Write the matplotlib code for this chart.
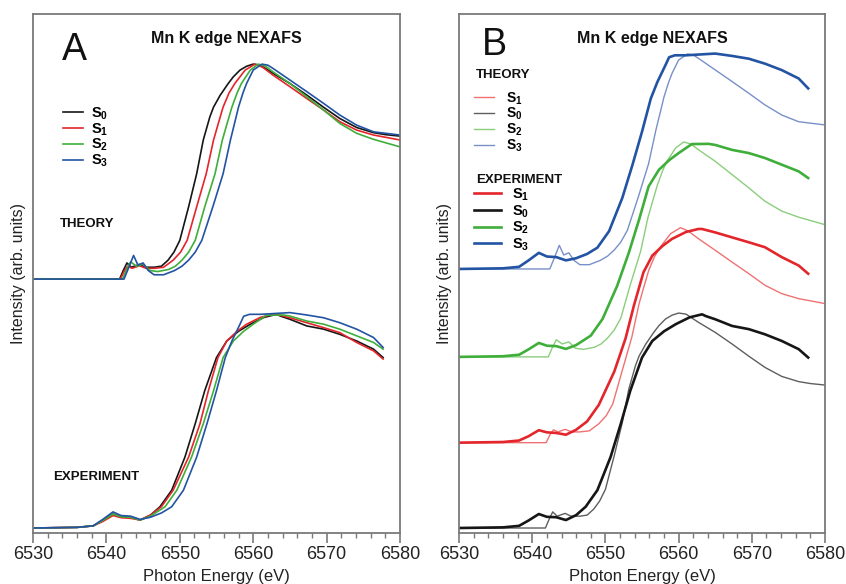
import matplotlib
matplotlib.use("Agg")
import matplotlib.pyplot as plt
from matplotlib.lines import Line2D

plt.rcParams['font.family'] = ['Liberation Sans', 'DejaVu Sans']
plt.rcParams['mathtext.fontset'] = 'custom'
plt.rcParams['mathtext.rm'] = 'Liberation Sans'
plt.rcParams['mathtext.bf'] = 'Liberation Sans:bold'

# ---------------- data (normalized intensity vs photon energy, eV) ----------------
th_s0_e = [6530, 6541.8, 6542.3, 6542.8, 6543.4, 6544.5, 6545.3, 6546.5, 6547.5, 6548.4, 6549.2, 6550.0,
           6551.2, 6552.3, 6553.2, 6554.1, 6554.6, 6555.5, 6556.6, 6557.3, 6558.2, 6559.1, 6560.0,
           6561.0, 6562.7, 6565.0, 6567.3, 6569.6, 6571.8, 6574.1, 6576.4, 6578.0, 6580.0]
th_s0_y = [0, 0, 0.04, 0.075, 0.055, 0.068, 0.055, 0.055, 0.06, 0.088, 0.125, 0.18,
           0.336, 0.49, 0.647, 0.755, 0.80, 0.855, 0.91, 0.941, 0.972, 0.99, 1.0,
           0.995, 0.957, 0.91, 0.856, 0.799, 0.747, 0.705, 0.681, 0.672, 0.665]

th_s1_e = [6530, 6541.9, 6542.4, 6542.9, 6543.5, 6544.5, 6545.4, 6546.5, 6547.8, 6549.1, 6550.1, 6551.0,
           6552.3, 6553.6, 6554.6, 6555.3, 6555.9, 6556.7, 6557.5, 6558.9, 6560.25, 6561.3, 6562.7,
           6565.0, 6567.3, 6569.6, 6571.8, 6574.1, 6576.4, 6580.0]
th_s1_y = [0, 0, 0.035, 0.06, 0.05, 0.062, 0.05, 0.05, 0.055, 0.088, 0.125, 0.18,
           0.336, 0.49, 0.647, 0.73, 0.80, 0.865, 0.91, 0.972, 1.0, 0.985, 0.949,
           0.895, 0.840, 0.786, 0.732, 0.693, 0.670, 0.647]

th_s2_e = [6530, 6542.2, 6542.7, 6543.3, 6544.1, 6545.0, 6545.9, 6547.0, 6548.5, 6549.4, 6550.3, 6551.2,
           6552.1, 6553.4, 6554.8, 6555.8, 6556.5, 6557.1, 6557.8, 6558.4, 6559.6, 6560.7, 6561.7,
           6562.7, 6565.0, 6567.3, 6569.6, 6571.8, 6574.1, 6576.4, 6580.0]
th_s2_y = [0, 0, 0.04, 0.08, 0.06, 0.07, 0.04, 0.035, 0.045, 0.06, 0.088, 0.125,
           0.18, 0.336, 0.49, 0.647, 0.73, 0.80, 0.865, 0.91, 0.972, 1.0, 0.99,
           0.964, 0.91, 0.848, 0.786, 0.724, 0.678, 0.650, 0.615]

th_s3_e = [6530, 6542.4, 6543.0, 6543.7, 6544.3, 6545.0, 6545.7, 6546.5, 6547.8, 6549.3, 6550.3, 6551.2,
           6552.1, 6553.0, 6554.5, 6555.9, 6556.9, 6557.5, 6558.0, 6558.6, 6559.1, 6560.0, 6561.2,
           6562.0, 6562.7, 6565.0, 6567.3, 6569.6, 6571.8, 6574.1, 6576.4, 6580.0]
th_s3_y = [0, 0, 0.05, 0.11, 0.065, 0.075, 0.04, 0.02, 0.02, 0.04, 0.06, 0.088,
           0.125, 0.18, 0.336, 0.49, 0.647, 0.73, 0.80, 0.865, 0.91, 0.972, 1.0,
           0.995, 0.98, 0.926, 0.872, 0.817, 0.763, 0.716, 0.685, 0.670]

ex_s0_e = [6530, 6536, 6538.2, 6539.5, 6540.9, 6542.0, 6543.3, 6544.6, 6546.0, 6547.3, 6548.9, 6550.7,
           6552.1, 6553.4, 6555.0, 6556.4, 6558.0, 6559.6, 6561.5, 6563.2, 6563.7, 6565.0, 6567.3,
           6569.6, 6571.8, 6574.1, 6576.4, 6577.7]
ex_s0_y = [0, 0.003, 0.01, 0.035, 0.065, 0.052, 0.05, 0.037, 0.06, 0.099, 0.176, 0.33,
           0.485, 0.639, 0.793, 0.87, 0.915, 0.948, 0.98, 0.994, 0.986, 0.971, 0.94,
           0.925, 0.901, 0.87, 0.832, 0.793]

ex_s1_e = [6530, 6536, 6538.2, 6539.5, 6540.9, 6542.0, 6543.3, 6544.6, 6546.0, 6547.5, 6549.1, 6551.2,
           6552.75, 6553.9, 6555.2, 6556.4, 6557.8, 6559.1, 6561.0, 6562.7, 6563.2, 6565.0, 6567.3,
           6569.6, 6571.8, 6574.1, 6576.4, 6577.7]
ex_s1_y = [0, 0.003, 0.01, 0.03, 0.058, 0.048, 0.045, 0.037, 0.06, 0.099, 0.176, 0.33,
           0.485, 0.639, 0.793, 0.87, 0.915, 0.948, 0.98, 0.994, 0.994, 0.978, 0.955,
           0.932, 0.909, 0.863, 0.824, 0.786]

ex_s2_e = [6530, 6536, 6538.2, 6539.5, 6540.9, 6542.0, 6543.3, 6544.6, 6546.0, 6548.0, 6549.6, 6551.6,
           6553.2, 6554.6, 6555.9, 6557.3, 6558.7, 6560.0, 6561.8, 6564.1, 6565.0, 6567.3, 6569.6,
           6571.8, 6574.1, 6576.4, 6577.7]
ex_s2_y = [0, 0.003, 0.01, 0.035, 0.065, 0.052, 0.05, 0.037, 0.055, 0.099, 0.176, 0.33,
           0.485, 0.639, 0.793, 0.87, 0.915, 0.948, 0.99, 0.991, 0.986, 0.963, 0.948,
           0.925, 0.894, 0.863, 0.832]

ex_s3_e = [6530, 6536, 6538.2, 6539.5, 6540.9, 6542.0, 6543.3, 6544.6, 6546.0, 6547.5, 6548.9, 6550.5,
           6552.3, 6553.7, 6555.0, 6556.2, 6557.1, 6558.2, 6558.7, 6559.5, 6561.0, 6563.0, 6565.0,
           6567.3, 6569.6, 6571.8, 6574.1, 6576.4, 6577.7]
ex_s3_y = [0, 0.003, 0.01, 0.04, 0.075, 0.058, 0.055, 0.04, 0.05, 0.07, 0.099, 0.176,
           0.33, 0.485, 0.639, 0.793, 0.87, 0.948, 0.985, 0.994, 0.994, 0.998, 1.002,
           0.991, 0.978, 0.955, 0.925, 0.886, 0.84]

x_ticks = [6530, 6540, 6550, 6560, 6570, 6580]

# ---------------- styling ----------------
C_BLACK = '#161616'
C_RED = '#e3262b'
C_GREEN = '#3fae3a'
C_BLUE = '#2353a3'
T_BLACK = '#5e5e5e'
T_RED = '#ef7272'
T_GREEN = '#8ace7c'
T_BLUE = '#7890c8'
SPINE = '#7a7a7a'
TXT = '#222222'

theory = [(th_s0_e, th_s0_y), (th_s1_e, th_s1_y), (th_s2_e, th_s2_y), (th_s3_e, th_s3_y)]
expt = [(ex_s0_e, ex_s0_y), (ex_s1_e, ex_s1_y), (ex_s2_e, ex_s2_y), (ex_s3_e, ex_s3_y)]
labels = [r'$\mathbf{S}_\mathbf{0}$', r'$\mathbf{S}_\mathbf{1}$', r'$\mathbf{S}_\mathbf{2}$', r'$\mathbf{S}_\mathbf{3}$']

fig = plt.figure(figsize=(8.46, 5.84), dpi=100)
axA = fig.add_axes([0.039, 0.0873, 0.4338, 0.8887])
axB = fig.add_axes([0.5426, 0.0873, 0.4326, 0.8887])

YLIM = (-0.0233, 2.391)
THEORY_OFFSET_A = 1.158
OFFSETS_B = [0.0, 0.397, 0.796, 1.205]


def style_axis(ax):
    ax.set_xlim(6530, 6580)
    ax.set_ylim(*YLIM)
    ax.set_xticks(x_ticks)
    ax.set_xticks(range(6530, 6581, 2), minor=True)
    ax.set_yticks([])
    for s in ax.spines.values():
        s.set_color(SPINE)
        s.set_linewidth(1.3)
    ax.tick_params(axis='x', which='major', direction='out', length=7, width=1.2,
                   color=SPINE, labelsize=13, labelcolor=TXT, pad=2)
    ax.tick_params(axis='x', which='minor', direction='out', length=3.5, width=1.0, color=SPINE)
    ax.set_xlabel('Photon Energy (eV)', fontsize=12, color=TXT, labelpad=4.5)
    ax.set_ylabel('Intensity (arb. units)', fontsize=11.5, color=TXT, labelpad=5)


# ---------------- panel A ----------------
colsA = [C_BLACK, C_RED, C_GREEN, C_BLUE]
handlesA = []
for (e, y), c, lab in zip(theory, colsA, labels):
    h, = axA.plot(e, [v + THEORY_OFFSET_A for v in y], color=c, lw=1.2, label=lab)
    handlesA.append(h)
for (e, y), c in zip(expt, colsA):
    axA.plot(e, y, color=c, lw=1.2)
style_axis(axA)
axA.text(0.114, 0.911, 'A', transform=axA.transAxes, fontsize=27, ha='center', va='baseline', color='#111111')
axA.text(0.526, 0.944, 'Mn K edge NEXAFS', transform=axA.transAxes, fontsize=11.5, fontweight='bold',
         ha='center', va='baseline', color='#111111')
axA.text(0.0736, 0.5896, 'THEORY', transform=axA.transAxes, fontsize=9.5, fontweight='bold',
         ha='left', va='baseline', color='#111111')
axA.text(0.0545, 0.102, 'EXPERIMENT', transform=axA.transAxes, fontsize=9.5, fontweight='bold',
         ha='left', va='baseline', color='#111111')
axA.legend(handles=handlesA, loc='upper left', bbox_to_anchor=(0.082, 0.825), frameon=False,
           fontsize=10.5, handlelength=1.35, handletextpad=0.55, labelspacing=-0.05,
           borderaxespad=0, borderpad=0)

# ---------------- panel B ----------------
colsB_th = [T_BLACK, T_RED, T_GREEN, T_BLUE]
colsB_ex = [C_BLACK, C_RED, C_GREEN, C_BLUE]
for (e, y), c, off in zip(theory, colsB_th, OFFSETS_B):
    axB.plot(e, [v + off for v in y], color=c, lw=1.0)
for (e, y), c, off in zip(expt, colsB_ex, OFFSETS_B):
    axB.plot(e, [v + off for v in y], color=c, lw=1.9)
style_axis(axB)
axB.text(0.098, 0.921, 'B', transform=axB.transAxes, fontsize=27, ha='center', va='baseline', color='#111111')
axB.text(0.527, 0.944, 'Mn K edge NEXAFS', transform=axB.transAxes, fontsize=11.5, fontweight='bold',
         ha='center', va='baseline', color='#111111')
axB.text(0.046, 0.877, 'THEORY', transform=axB.transAxes, fontsize=9.5, fontweight='bold',
         ha='left', va='baseline', color='#111111')
axB.text(0.046, 0.674, 'EXPERIMENT', transform=axB.transAxes, fontsize=9.5, fontweight='bold',
         ha='left', va='baseline', color='#111111')

order = [1, 0, 2, 3]
legB1 = axB.legend(handles=[Line2D([], [], color=colsB_th[i], lw=1.0) for i in order],
                   labels=[labels[i] for i in order],
                   loc='upper left', bbox_to_anchor=(0.04, 0.853), frameon=False,
                   fontsize=10, handlelength=1.45, handletextpad=0.85, labelspacing=-0.05,
                   borderaxespad=0, borderpad=0)
axB.add_artist(legB1)
axB.legend(handles=[Line2D([], [], color=colsB_ex[i], lw=1.9) for i in order],
           labels=[labels[i] for i in order],
           loc='upper left', bbox_to_anchor=(0.04, 0.668), frameon=False,
           fontsize=10.5, handlelength=1.9, handletextpad=0.7, labelspacing=0.0,
           borderaxespad=0, borderpad=0)

fig.savefig('out.png', dpi=100)
